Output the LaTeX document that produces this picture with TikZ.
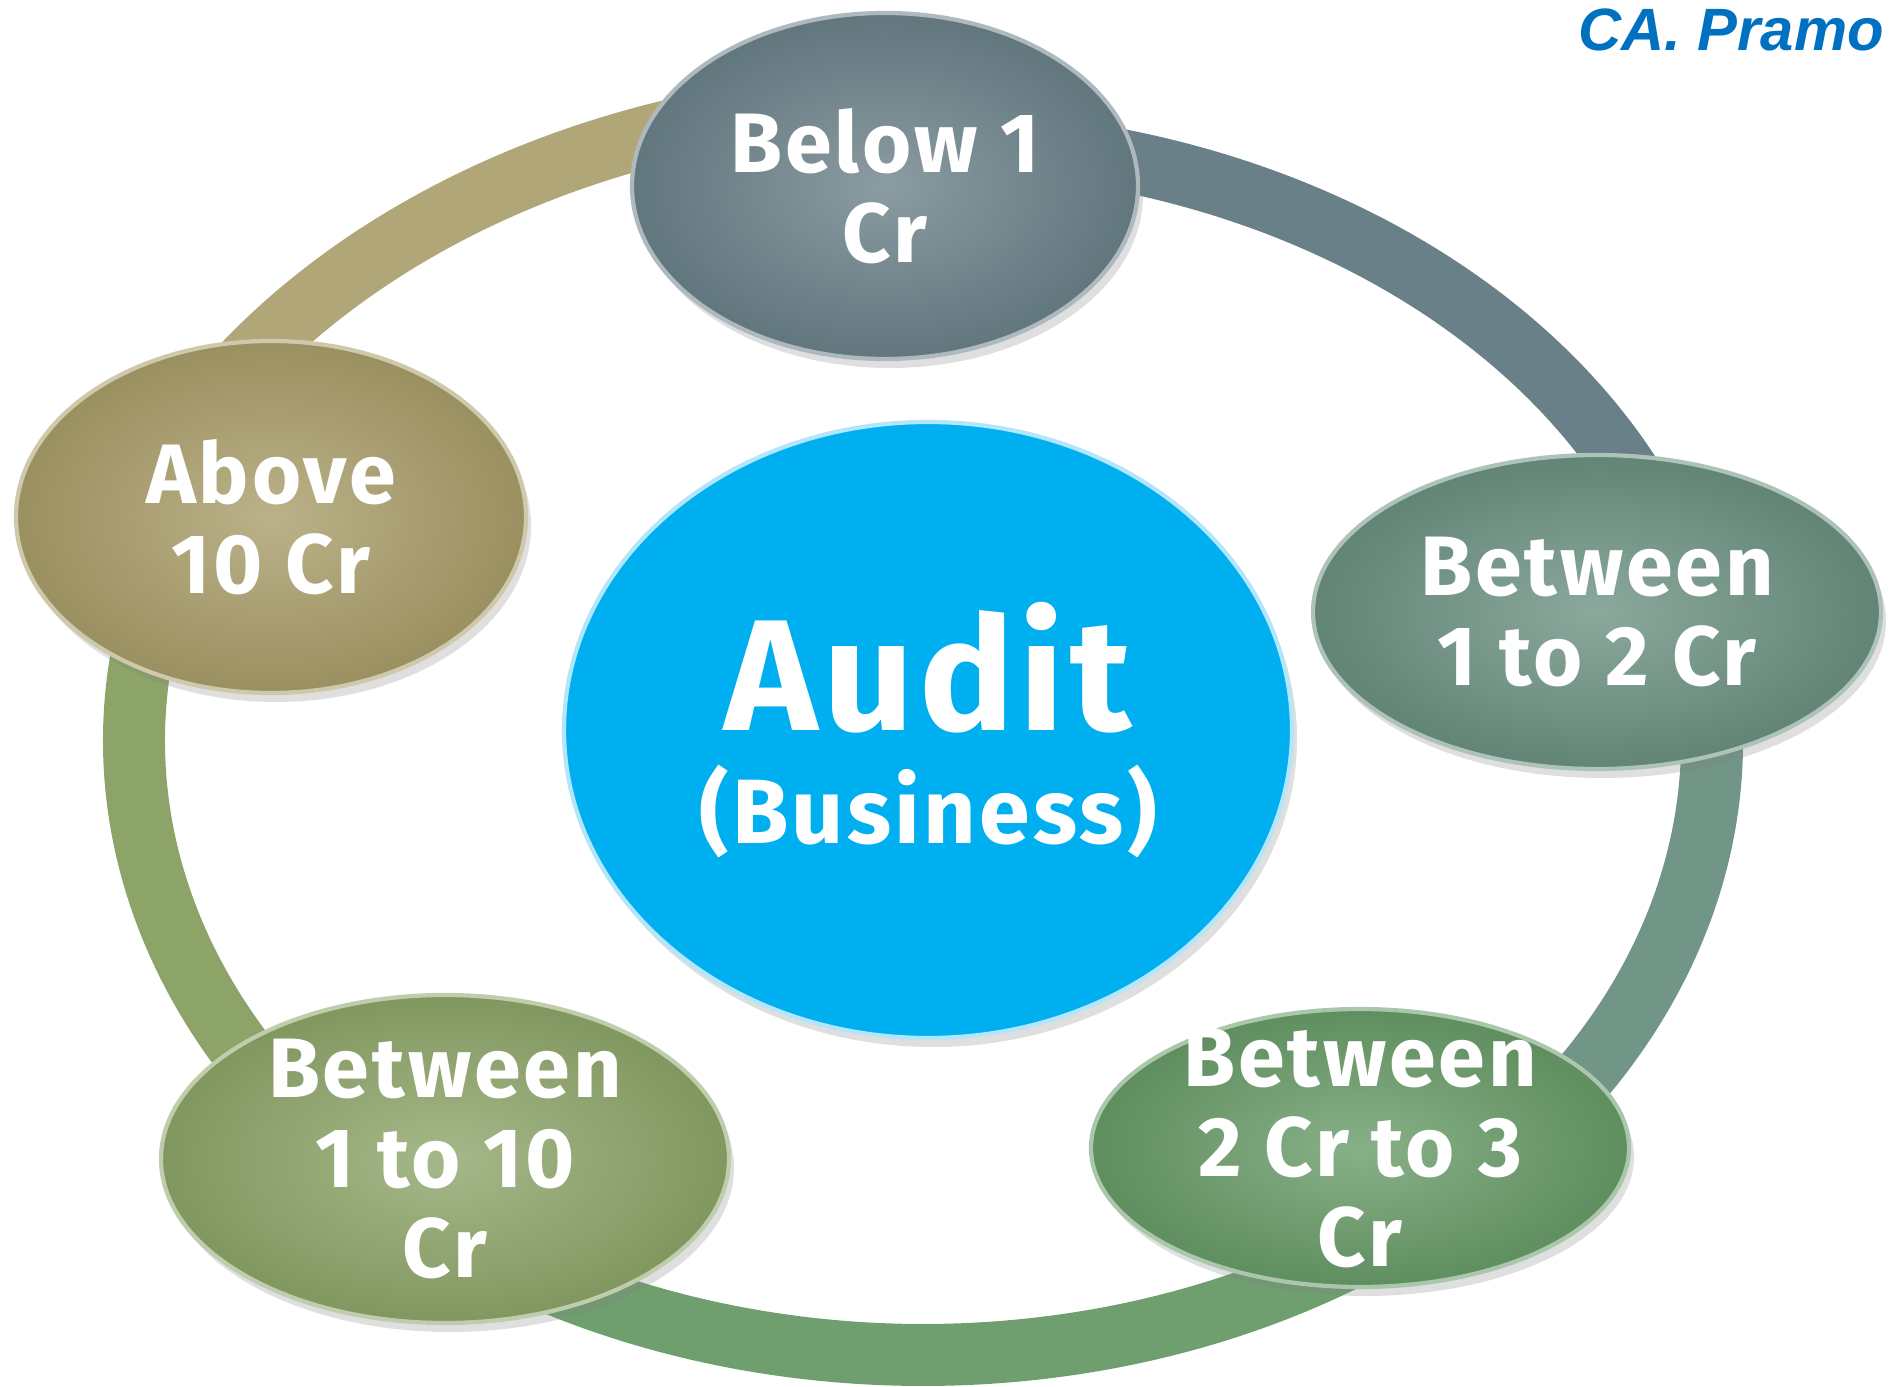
\documentclass[tikz,border=0pt]{standalone}
\usepackage{fontspec}
\setmainfont{Fira Sans}[LetterSpace=3.5]
\newfontfamily\creditfont{Liberation Sans}
\usetikzlibrary{shapes.geometric,shadows}
\definecolor{auditblue}{HTML}{00AFEF}
\definecolor{slatetone}{HTML}{6A8088}
\definecolor{sagetone}{HTML}{6A9080}
\definecolor{leaftone}{HTML}{679A67}
\definecolor{olivetone}{HTML}{8CA468}
\definecolor{sandtone}{HTML}{A89C68}
\definecolor{creditblue}{HTML}{0070C0}
\tikzstyle{band}=[line width=0.62cm]
\tikzstyle{bubble}=[ellipse,inner sep=-0.6cm,align=center,text=white,font=\bfseries\fontsize{24}{25.5}\selectfont,line width=1.2pt,drop shadow={opacity=0.25,shadow xshift=0.05cm,shadow yshift=-0.09cm}]
\tikzset{tone/.style={draw=#1!55!white,inner color=#1!78!white,outer color=#1!92!black}}

\begin{document}
\begin{tikzpicture}
\useasboundingbox (0,0) rectangle (18.89,13.86);
\clip (0,0) rectangle (18.89,13.86);

\begin{scope}[shift={(9.23,6.45)}]
  \coordinate (rbelow) at (93:7.89 and 6.0);
  \coordinate (rbetweena) at (14:7.89 and 6.14);
  \coordinate (rbetweenb) at (-50:7.89 and 6.14);
  \coordinate (rbetweenc) at (228:7.89 and 6.14);
  \coordinate (rabove) at (156:8.40 and 6.40);

  \draw [band,sandtone!90!white] (rabove) arc[start angle=156,end angle=93,x radius=8.40,y radius=6.40];
  \draw [band,slatetone] (rbelow) arc[start angle=93,end angle=14,x radius=7.89,y radius=6.0];
  \draw [band,sagetone!95!white] (rbetweena) arc[start angle=14,end angle=-50,x radius=7.89,y radius=6.14];
  \draw [band,leaftone!95!white] (rbetweenb) arc[start angle=-50,end angle=-132,x radius=7.89,y radius=6.14];
  \draw [band,olivetone] (rbetweenc) arc[start angle=228,end angle=156,x radius=7.89,y radius=6.14];
\end{scope}

\node (audit) at (9.28,6.56) [ellipse,minimum width=7.28cm,minimum height=6.16cm,inner sep=0pt,fill=auditblue,draw=cyan!30!white,line width=1.2pt,drop shadow={opacity=0.25,shadow xshift=0.05cm,shadow yshift=-0.09cm},text=white,align=center,font=\bfseries\fontsize{26}{32}\selectfont] {{\fontsize{45}{45}\selectfont Audit}\\(Business)};

\node (below) at (8.85,12.00) [bubble,tone=slatetone,minimum width=5.06cm,minimum height=3.46cm] {Below 1\\Cr};
\node (between12) at (15.97,7.74) [bubble,tone=sagetone,minimum width=5.68cm,minimum height=3.14cm] {Between\\1 to 2 Cr};
\node (between23) at (13.60,2.38) [bubble,tone=leaftone,minimum width=5.38cm,minimum height=2.78cm] {Between\\2 Cr to 3\\Cr};
\node (between110) at (4.45,2.27) [bubble,tone=olivetone,minimum width=5.68cm,minimum height=3.28cm] {Between\\1 to 10\\Cr};
\node (above) at (2.71,8.69) [bubble,tone=sandtone,minimum width=5.10cm,minimum height=3.52cm] {Above\\10 Cr};

\node (credit) at (15.66,13.35) [anchor=base west,text=creditblue,font=\creditfont\bfseries\itshape\fontsize{17}{17}\selectfont] {CA. Pramo};
\end{tikzpicture}
\end{document}
